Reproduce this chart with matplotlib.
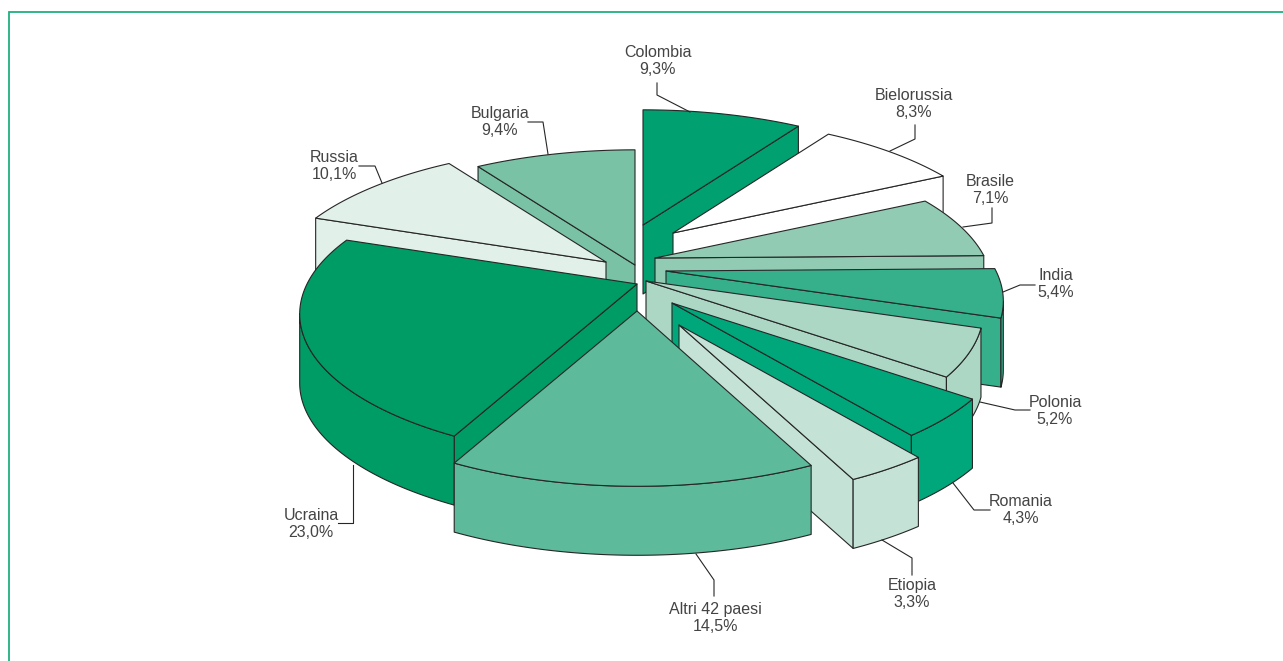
#!/usr/bin/env python3
"""Exploded 3D pie of share by country of origin, drawn with plain polygons."""
import matplotlib
matplotlib.use("Agg")
import matplotlib.pyplot as plt
import numpy as np
from matplotlib.patches import Polygon

countries = ["Colombia", "Bielorussia", "Brasile", "India", "Polonia", "Romania",
             "Etiopia", "Altri 42 paesi", "Ucraina", "Russia", "Bulgaria"]
shares = [9.3, 8.3, 7.1, 5.4, 5.2, 4.3, 3.3, 14.5, 23.0, 10.1, 9.4]

colours = ["#00A070", "#FFFFFF", "#91CBB3", "#36AF8B", "#ACD7C5", "#00A77B",
           "#C5E2D6", "#5DBA9A", "#009C66", "#E1F0E9", "#79C2A6"]

# layout, in pixels: where each slice was pulled out to, and the label furniture
APEX = [(643, 225), (673, 233), (655, 258), (666, 271), (646, 281), (672, 303),
        (679, 325), (637, 311), (637, 284), (606, 262), (635, 265)]
LABEL_XY = [(658, 61), (914, 104), (990, 190), (1056, 284), (1055, 411), (1021, 510),
            (912, 594), (715, 618), (311, 524), (334, 166), (500, 122)]
LEADERS = [
    [(657, 83), (657, 95), (690, 112)],
    [(915, 125), (915, 139), (890, 151)],
    [(992, 208), (992, 223), (963, 227)],
    [(1035, 285), (1020, 285), (1003, 292)],
    [(980, 402), (1015, 410), (1030, 410)],
    [(953, 483), (974, 510), (990, 510)],
    [(882, 540), (912, 558), (912, 575)],
    [(696, 554), (714, 580), (714, 596)],
    [(353, 465), (353, 523), (338, 523)],
    [(382, 183), (375, 166), (359, 166)],
    [(548, 154), (543, 122), (528, 122)],
]
DRAW_ORDER = [0, 10, 1, 9, 2, 3, 8, 4, 5, 6, 7]  # back to front

RX, RY, PERSP, DEPTH = 330.0, 139.0, 0.207, 69.0
EDGE = "#262626"
TEXT = "#444444"
FRAME = "#1FB07F"
LINE_GAP = 17


def rim_points(apex, t0, t1):
    """Project the arc of a unit circle lying in the tilted pie plane."""
    t = np.linspace(t0, t1, 80)
    den = 1 + PERSP * np.cos(t)
    return np.column_stack([apex[0] + RX * np.sin(t) / den,
                            apex[1] - RY * np.cos(t) / den])


def add_face(ax, pts, colour):
    ax.add_patch(Polygon(pts, closed=True, facecolor=colour, edgecolor=EDGE,
                         linewidth=0.8, joinstyle="round"))


def extrude(pts):
    """Side face hanging below a run of top-face points."""
    pts = np.asarray(pts, dtype=float)
    return np.vstack([pts, pts[::-1] + [0, DEPTH]])


def draw_slice(ax, apex, t0, t1, colour):
    rim = rim_points(apex, t0, t1)
    a = np.array(apex, dtype=float)
    # a side is visible when the clockwise outline runs leftwards on screen
    if rim[0, 0] < a[0] - 0.5:
        add_face(ax, extrude([a, rim[0]]), colour)
    if rim[-1, 0] > a[0] + 0.5:
        add_face(ax, extrude([rim[-1], a]), colour)
    facing = np.diff(rim[:, 0]) < 0
    if facing.any():
        idx = np.flatnonzero(facing)
        add_face(ax, extrude(rim[idx[0]:idx[-1] + 2]), colour)
    add_face(ax, np.vstack([a, rim]), colour)


def main():
    fig = plt.figure(figsize=(12.83, 6.61), dpi=100)
    ax = fig.add_axes([0, 0, 1, 1])
    ax.set_xlim(0, 1283)
    ax.set_ylim(661, 0)
    ax.axis("off")

    # frame runs off the right and bottom of the crop
    ax.plot([8.5, 8.5, 1283], [661, 12, 12], color=FRAME, lw=1.3, solid_joinstyle="miter")

    edges = np.radians(np.concatenate([[0], np.cumsum(shares)]) / sum(shares) * 360)
    for i in DRAW_ORDER:
        draw_slice(ax, APEX[i], edges[i], edges[i + 1], colours[i])

    for leader in LEADERS:
        xs, ys = zip(*leader)
        ax.plot(xs, ys, color=EDGE, lw=0.8)

    font = dict(ha="center", va="center", fontsize=11.5, color=TEXT,
                family=["Liberation Sans", "DejaVu Sans"])
    for name, share, (x, y) in zip(countries, shares, LABEL_XY):
        ax.text(x, y - LINE_GAP / 2, name, **font)
        ax.text(x, y + LINE_GAP / 2, f"{share:.1f}%".replace(".", ","), **font)

    fig.savefig("out.png", dpi=100)
    plt.close(fig)


if __name__ == "__main__":
    main()
